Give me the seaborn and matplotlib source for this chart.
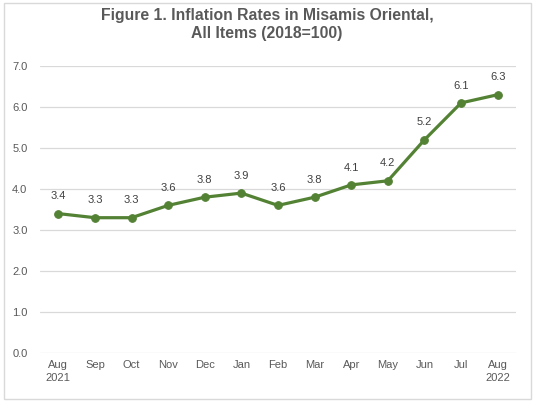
import matplotlib
matplotlib.use('Agg')
import matplotlib.pyplot as plt
import seaborn as sns
import pandas as pd
from matplotlib.patches import Rectangle

# data
months = ["Aug\n2021", "Sep", "Oct", "Nov", "Dec", "Jan", "Feb",
          "Mar", "Apr", "May", "Jun", "Jul", "Aug\n2022"]
rates = [3.4, 3.3, 3.3, 3.6, 3.8, 3.9, 3.6, 3.8, 4.1, 4.2, 5.2, 6.1, 6.3]
y_ticks = [0.0, 1.0, 2.0, 3.0, 4.0, 5.0, 6.0, 7.0]

df = pd.DataFrame({"Month": months, "Rate": rates})
df["pos"] = range(len(df))

sns.set_theme(style="white")
plt.rcParams['font.family'] = ['Liberation Sans', 'DejaVu Sans']

line_color = "#548235"
text_color = "#595959"
grid_color = "#d9d9d9"

fig = plt.figure(figsize=(5.34, 4.03), dpi=100)
ax = fig.add_axes([40 / 534, 1 - 353 / 403, 476 / 534, 287 / 403])

sns.lineplot(data=df, x="pos", y="Rate", ax=ax, color=line_color,
             linewidth=2.3, marker="o", markersize=5.5,
             markeredgecolor=line_color, markerfacecolor=line_color)

for x, y in zip(df["pos"], df["Rate"]):
    ax.annotate(f"{y:.1f}", (x, y), xytext=(0, 12.5), textcoords="offset points",
                ha="center", va="center", fontsize=8, color="#404040")

ax.set_xlim(-0.5, len(months) - 0.5)
ax.set_ylim(0, 7)
ax.set_xticks(df["pos"])
ax.set_xticklabels(months, fontsize=8, color=text_color, linespacing=1.4)
ax.set_yticks(y_ticks)
ax.set_yticklabels([f"{v:.1f}" for v in y_ticks], fontsize=8, color=text_color)
ax.tick_params(axis="both", length=0)
ax.tick_params(axis="x", pad=5)
ax.tick_params(axis="y", pad=9)
ax.set_xlabel("")
ax.set_ylabel("")
ax.grid(axis="y", color=grid_color, linewidth=0.9)
ax.set_axisbelow(True)
for s in ax.spines.values():
    s.set_visible(False)

fig.text(0.5, 1 - 24.5 / 403, "Figure 1. Inflation Rates in Misamis Oriental,\nAll Items (2018=100)",
         ha="center", va="center", fontsize=11.3, fontweight="bold",
         color=text_color, linespacing=1.2)

fig.patches.append(Rectangle((4 / 534, 1 - 398.5 / 403), 527 / 534, 395.5 / 403,
                             transform=fig.transFigure, fill=False,
                             edgecolor=grid_color, linewidth=1.0))

fig.savefig("out.png", dpi=100)
